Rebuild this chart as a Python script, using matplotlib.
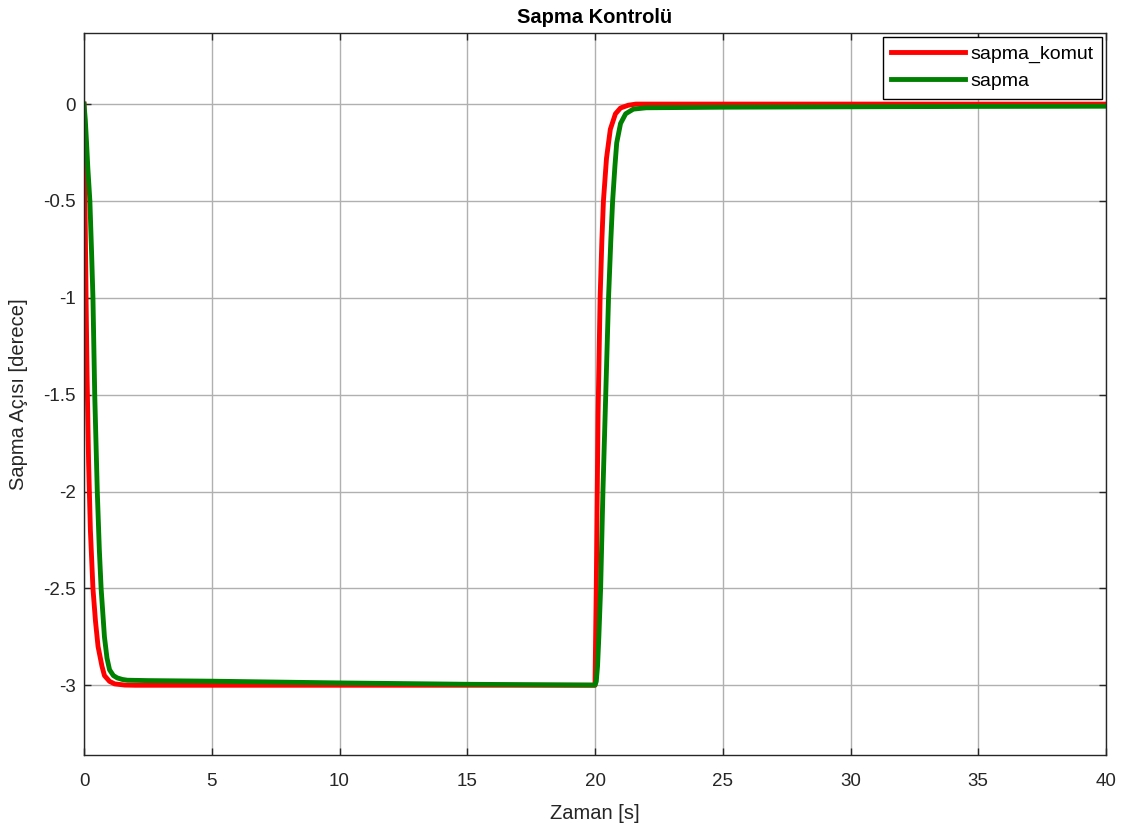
import matplotlib
matplotlib.use("Agg")
import matplotlib.pyplot as plt

plt.rcParams['font.family'] = ['Liberation Sans', 'DejaVu Sans']
plt.rcParams['axes.unicode_minus'] = False

# Commanded yaw (sapma_komut)
komut_t = [0, 0.02, 0.04, 0.08, 0.12, 0.18, 0.25, 0.35, 0.45, 0.55, 0.7, 0.8, 1.0, 1.2, 1.6, 2.0,
           20.0, 20.02, 20.05, 20.08, 20.12, 20.2, 20.27, 20.33, 20.45, 20.6, 20.8, 21.0, 21.3, 21.6, 40.0]
komut_v = [0, -0.28, -0.52, -0.99, -1.4, -1.85, -2.2, -2.5, -2.67, -2.8, -2.9, -2.95, -2.98, -2.993, -2.999, -3.0,
           -3.0, -2.8, -2.5, -2.1, -1.6, -1.0, -0.7, -0.5, -0.28, -0.13, -0.05, -0.02, -0.006, 0.0, 0.0]

# Actual yaw (sapma)
sapma_t = [0, 0.05, 0.1, 0.15, 0.23, 0.3, 0.35, 0.42, 0.52, 0.6, 0.67, 0.8, 0.9, 1.0, 1.15, 1.3, 1.5, 1.7, 2.5, 5.0,
           10.0, 15.0, 20.0, 20.05, 20.1, 20.15, 20.22, 20.31, 20.42, 20.53, 20.62, 20.69, 20.78, 20.85, 21.0,
           21.2, 21.5, 22.0, 25.0, 30.0, 35.0, 40.0]
sapma_v = [0, -0.08, -0.2, -0.33, -0.5, -0.78, -1.0, -1.5, -2.0, -2.3, -2.5, -2.75, -2.86, -2.92, -2.95, -2.962,
           -2.97, -2.974, -2.976, -2.979, -2.988, -2.995, -2.999, -2.98, -2.9, -2.75, -2.5, -2.0, -1.5, -1.0,
           -0.7, -0.5, -0.32, -0.2, -0.1, -0.05, -0.026, -0.019, -0.016, -0.014, -0.012, -0.011]

x_ticks = [0, 5, 10, 15, 20, 25, 30, 35, 40]
y_ticks = [-3, -2.5, -2, -1.5, -1, -0.5, 0]
y_tick_labels = ['-3', '-2.5', '-2', '-1.5', '-1', '-0.5', '0']

fig = plt.figure(figsize=(11.29, 8.27), dpi=100)
ax = fig.add_axes([84 / 1129, 72 / 827, (1106 - 84) / 1129, (755 - 33) / 827])

ax.plot(komut_t, komut_v, color='#ff0000', lw=3.5, label='sapma_komut', solid_joinstyle='round')
ax.plot(sapma_t, sapma_v, color='#008000', lw=3.5, label='sapma', solid_joinstyle='round')

ax.set_xlim(0, 40)
ax.set_ylim(-3.36, 0.367)
ax.set_xticks(x_ticks)
ax.set_yticks(y_ticks)
ax.set_yticklabels(y_tick_labels)
ax.grid(True, color='#b0b0b0', lw=1.0)
ax.set_axisbelow(True)
for s in ax.spines.values():
    s.set_color('#262626')
    s.set_linewidth(1.0)
ax.tick_params(direction='in', length=5, width=1, colors='#262626', labelsize=13.5,
               top=True, right=True, labelcolor='#262626')
ax.tick_params(axis='x', pad=13)
ax.tick_params(axis='y', pad=6)

ax.set_title('Sapma Kontrolü', fontsize=14.5, fontweight='bold', pad=7)
ax.set_xlabel('Zaman [s]', fontsize=14.5, color='#262626', labelpad=10)
ax.set_ylabel('Sapma Açısı [derece]', fontsize=14.5, color='#262626', labelpad=11)

leg = ax.legend(loc='upper right', fontsize=14, fancybox=False, framealpha=1,
                edgecolor='#000000', handlelength=3.8, borderaxespad=0.2,
                handletextpad=0.25, labelspacing=0.45, borderpad=0.45)
leg.get_frame().set_linewidth(1.0)

fig.savefig('out.png', dpi=100)
